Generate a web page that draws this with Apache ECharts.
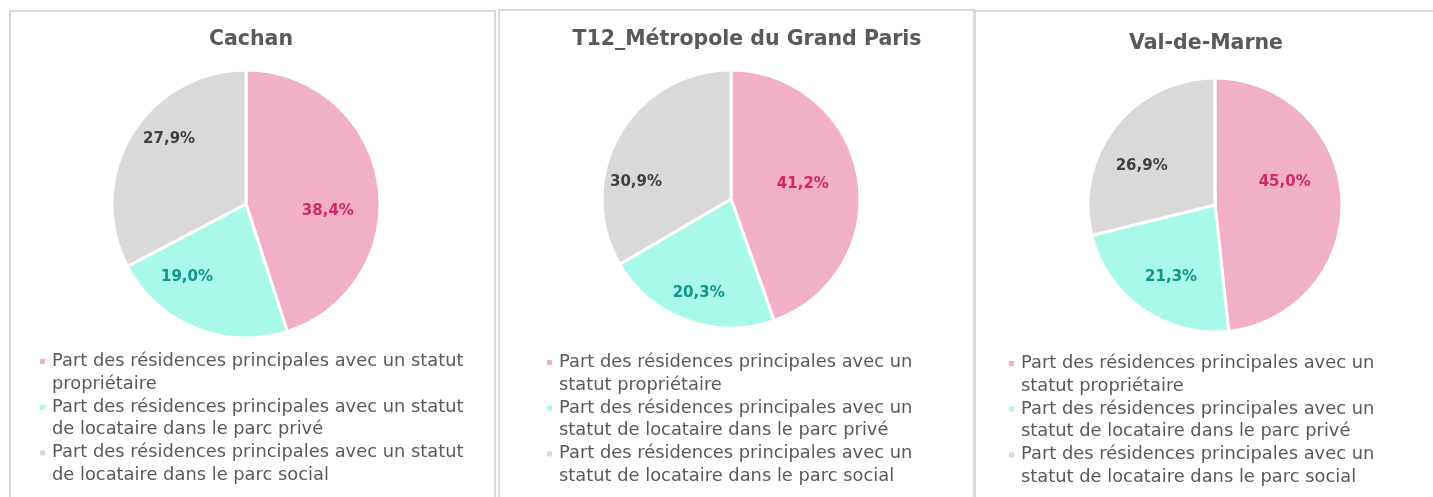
<!DOCTYPE html>
<html>
<head>
<meta charset="utf-8">
<script src="https://cdn.jsdelivr.net/npm/echarts@6/dist/echarts.min.js"></script>
<style>
  html, body { margin: 0; padding: 0; background: #fff; }
  #main { width: 1433px; height: 497px; }
</style>
</head>
<body>
<div id="main"></div>
<script>
// data
const categories = [
  "Part des résidences principales avec un statut propriétaire",
  "Part des résidences principales avec un statut de locataire dans le parc privé",
  "Part des résidences principales avec un statut de locataire dans le parc social"
];
const regions = ["Cachan", "T12_Métropole du Grand Paris", "Val-de-Marne"];
const cachanValues = [38.4, 19.0, 27.9];
const t12Values = [41.2, 20.3, 30.9];
const valDeMarneValues = [45.0, 21.3, 26.9];

const sliceColors = ["#f1b0c7", "#a8f9e9", "#d9d9d9"];
const labelColors = ["#d3285f", "#0f958a", "#404040"];
const FONT = "'DejaVu Sans', sans-serif";

// layout of the three panels (breakAt = words on the first legend line,
// nudge = small label shifts, like Excel's "best fit")
const panels = [
  { values: cachanValues, box: [10, 11, 485, 600], center: [246, 204], r: 134,
    title: [246, 24], legendX: 40, legendY: 350, breakAt: 7,
    nudge: [[3, 20], [-21, -20], [7, -14]] },
  { values: t12Values, box: [499, 10, 475, 600], center: [731, 199], r: 129,
    title: [742, 24], legendX: 547, legendY: 351, breakAt: 6,
    nudge: [[-4, -2], [1, 3], [-13, 30]] },
  { values: valDeMarneValues, box: [975, 11, 500, 600], center: [1215, 205], r: 127,
    title: [1201, 28], legendX: 1009, legendY: 352, breakAt: 6,
    nudge: [[-6, -19], [11, -6], [0, 18]] }
];
// where the labels sit, as part of the radius
const labelRatio = [0.57, 0.72, 0.7];

let chart = echarts.init(document.getElementById("main"));

function fmt(v) {
  return v.toFixed(1).replace(".", ",") + "%";
}

function wrap(name, n) {
  let words = name.split(" ");
  return words.slice(0, n).join(" ") + "\n" + words.slice(n).join(" ");
}

let graphics = [];
panels.forEach(function(p) {
  graphics.push({
    type: "rect",
    shape: { x: p.box[0], y: p.box[1], width: p.box[2], height: p.box[3] },
    style: { fill: "none", stroke: "#d9d9d9", lineWidth: 2 },
    silent: true
  });
  categories.forEach(function(name, i) {
    let top = p.legendY + i * 45.7;
    graphics.push({
      type: "rect",
      shape: { x: p.legendX, y: top + 9, width: 5, height: 5 },
      style: { fill: sliceColors[i] },
      silent: true
    });
    graphics.push({
      type: "text",
      x: p.legendX + 12,
      y: top,
      scaleX: 1.05,
      style: {
        text: wrap(name, p.breakAt),
        lineHeight: 22.8,
        font: "17px " + FONT,
        fill: "#595959",
        verticalAlign: "top"
      },
      silent: true
    });
  });
});

chart.setOption({
  animation: false,
  title: panels.map(function(p, k) {
    return {
      text: regions[k],
      left: p.title[0],
      top: p.title[1],
      textAlign: "center",
      textStyle: { fontFamily: FONT, fontWeight: "bold", fontSize: 20.5, color: "#595959" }
    };
  }),
  graphic: graphics,
  series: panels.map(function(p, k) {
    return {
      name: regions[k],
      type: "pie",
      center: p.center,
      radius: p.r,
      startAngle: 90,
      clockwise: true,
      silent: true,
      itemStyle: { borderColor: "#fff", borderWidth: 3 },
      label: {
        position: "inside",
        fontFamily: FONT,
        fontWeight: "bold",
        fontSize: 15,
        formatter: function(params) { return fmt(params.value); }
      },
      labelLayout: function(params) {
        let rect = params.labelRect;
        let cx = rect.x + rect.width / 2;
        let cy = rect.y + rect.height / 2;
        let f = labelRatio[params.dataIndex] / 0.5;
        let n = p.nudge[params.dataIndex];
        return {
          x: p.center[0] + (cx - p.center[0]) * f + n[0],
          y: p.center[1] + (cy - p.center[1]) * f + n[1]
        };
      },
      data: p.values.map(function(v, i) {
        return {
          name: categories[i],
          value: v,
          itemStyle: { color: sliceColors[i] },
          label: { color: labelColors[i] }
        };
      })
    };
  })
});
</script>
</body>
</html>
